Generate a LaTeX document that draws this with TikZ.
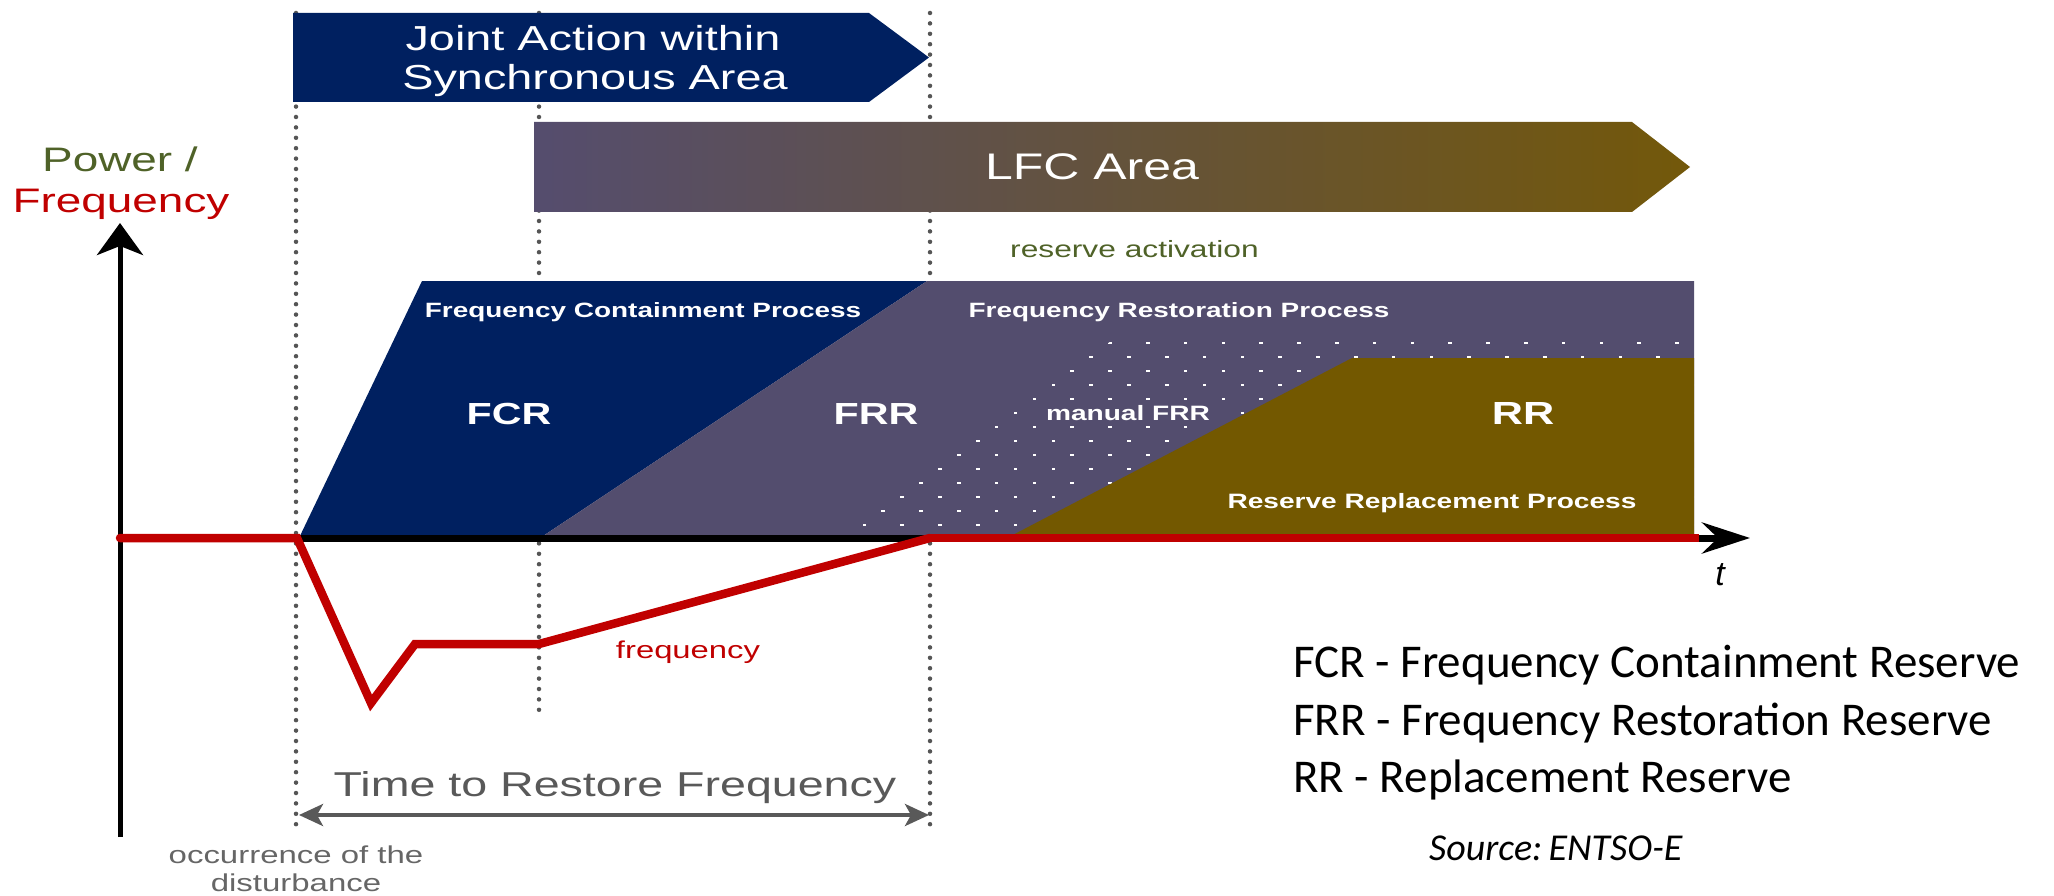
\documentclass[tikz,border=0pt]{standalone}
\usepackage{fontspec}
\usepackage{graphicx}
\setmainfont{Liberation Sans}
\newfontfamily\calib{Carlito}
\usetikzlibrary{arrows.meta,shadings}
\newcommand{\sx}[1]{\scalebox{1.35}[1]{#1}}
\newcommand{\fs}[1]{\fontsize{#1}{#1}\selectfont}
\definecolor{jnavy}{HTML}{002060}
\definecolor{frrc}{HTML}{534D6E}
\definecolor{rrc}{HTML}{735800}
\definecolor{lfcl}{HTML}{554D6E}
\definecolor{lfcr}{HTML}{73580A}
\definecolor{dotgray}{HTML}{555555}
\definecolor{fred}{HTML}{C00000}
\definecolor{olivec}{HTML}{4F6228}
\definecolor{tgray}{HTML}{595959}
\definecolor{ogray}{HTML}{666666}
\begin{document}
\begin{tikzpicture}[x=1pt,y=-1pt,
  dotline/.style={draw=dotgray, line width=4.5pt, line cap=round, dash pattern=on 0pt off 10.4pt},
  wbold/.style={text=white, font=\bfseries, inner sep=0pt, anchor=base},
  plain/.style={inner sep=0pt, anchor=base},
  legend/.style={inner sep=0pt, anchor=base west, font=\calib\fs{47}}]
\path[use as bounding box] (0,0) rectangle (2054,896);

% dotted vertical guide lines
\coordinate (d1t) at (296,13);  \coordinate (d1b) at (296,832);
\coordinate (d2t) at (539,13);  \coordinate (d2b) at (539,713);
\coordinate (d3t) at (930,13);  \coordinate (d3b) at (930,832);
\draw[dotline] (d1t) -- (d1b);
\draw[dotline] (d2t) -- (d2b);
\draw[dotline] (d3t) -- (d3b);

% Joint action arrow
\fill[jnavy] (293,13) -- (869,13) -- (929,57.5) -- (869,102) -- (293,102) -- cycle;
\node[plain, text=white, font=\fs{34.7}] (joint1) at (593,51) {\sx{Joint Action within}};
\node[plain, text=white, font=\fs{34.7}] (joint2) at (595,90) {\sx{Synchronous Area}};

% LFC area arrow
\shade[left color=lfcl, right color=lfcr] (534,122) -- (1632,122) -- (1690,167) -- (1632,212) -- (534,212) -- cycle;
\node[plain, text=white, font=\fs{37}] (lfc) at (1092,180) {\sx{LFC Area}};

\node[plain, anchor=base west, text=olivec, font=\fs{23.5}] (resact) at (1010,258) {\sx{reserve activation}};

% process blocks
\fill[jnavy] (299,538) -- (422,281) -- (927,281) -- (540,538) -- cycle;
\fill[frrc] (540,538) -- (927,281) -- (1694,281) -- (1694,538) -- cycle;
\begin{scope}
  \clip (812,538) -- (1122,334) -- (1694,334) -- (1694,538) -- cycle;
  \foreach \j in {0,...,13} {
    \foreach \k in {0,...,26} {
      \pgfmathsetmacro\xx{732+37.8*\k+18.9*mod(\j,2)}
      \pgfmathsetmacro\yy{343+14*\j}
      \fill[white] (\xx-1.8,\yy-1.3) rectangle (\xx+1.8,\yy+1.3);
    }
  }
\end{scope}
\node[plain, fill=frrc, inner sep=2pt, text=white, font=\bfseries\fs{20.8}] (mfrr) at (1128,420) {\sx{manual FRR}};
\fill[rrc] (1007,538) -- (1352,358) -- (1694,358) -- (1694,538) -- cycle;

\node[wbold, font=\bfseries\fs{20.7}] (fcp) at (643,317) {\sx{Frequency Containment Process}};
\node[wbold, font=\bfseries\fs{20.7}] (frp) at (1179,317) {\sx{Frequency Restoration Process}};
\node[wbold, font=\bfseries\fs{30.5}] (fcr) at (509,424) {\sx{FCR}};
\node[wbold, font=\bfseries\fs{30.5}] (frr) at (876,424) {\sx{FRR}};
\node[wbold, font=\bfseries\fs{32}] (rr) at (1523,424) {\sx{RR}};
\node[wbold, font=\bfseries\fs{20.8}] (rrp) at (1432,508) {\sx{Reserve Replacement Process}};

% axes
\coordinate (orig) at (120,538);
\coordinate (tend) at (1750,538);
\coordinate (ybot) at (120,837);
\coordinate (ytop) at (120,223);
\draw[line width=7pt, -{Stealth[length=48pt,width=31pt,inset=16pt]}] (orig) -- (tend);
\draw[line width=5pt, -{Stealth[length=32pt,width=46pt,inset=9pt]}] (ybot) -- (ytop);

% frequency curve
\coordinate (f0) at (120,538);
\coordinate (f1) at (297,538);
\coordinate (f2) at (371,703);
\coordinate (f3) at (415,644);
\coordinate (f4) at (539,644);
\coordinate (f5) at (930,538);
\coordinate (f6) at (1699,538);
\draw[fred, line width=8.5pt, line cap=round] (f0) -- (f1) -- (f2) -- (f3) -- (f4) -- (f5);
\draw[fred, line width=8.5pt] (f5) -- (f6);
\node[plain, text=fred, font=\fs{24.3}] (freq) at (688,658) {\sx{frequency}};

% axis labels
\node[plain, text=olivec, font=\fs{34}] (power) at (120,172) {\sx{Power /}};
\node[plain, text=fred, font=\fs{34}] (freqlab) at (121,213) {\sx{Frequency}};
\node[plain, font=\itshape\fs{34}] (tlab) at (1720,585) {t};

% time to restore
\coordinate (al) at (299,815);
\coordinate (ar) at (929,815);
\draw[tgray, line width=4pt, {Stealth[length=24pt,width=22pt,inset=6pt]}-{Stealth[length=24pt,width=22pt,inset=6pt]}] (al) -- (ar);
\node[plain, text=tgray, font=\fs{34.5}] (ttrf) at (615,796) {\sx{Time to Restore Frequency}};
\node[plain, text=ogray, font=\fs{24.4}] (occ1) at (296,863) {\sx{occurrence of the}};
\node[plain, text=ogray, font=\fs{24.4}] (occ2) at (296,891) {\sx{disturbance}};

% legend
\node[legend] (lg1) at (1293,677) {FCR - Frequency Containment Reserve};
\node[legend] (lg2) at (1293,735) {FRR - Frequency Restoration Reserve};
\node[legend] (lg3) at (1293,792) {RR - Replacement Reserve};
\node[inner sep=0pt, anchor=base west, font=\calib\itshape\fs{38}] (src) at (1429,860) {Source:\,ENTSO-E};
\end{tikzpicture}
\end{document}
